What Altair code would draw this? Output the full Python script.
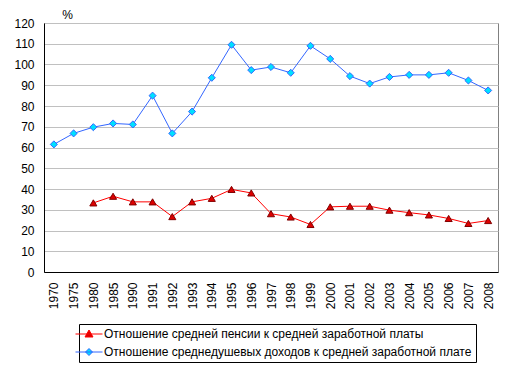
import altair as alt
import pandas as pd

years = ["1970", "1975", "1980", "1985", "1990", "1991", "1992", "1993", "1994", "1995",
         "1996", "1997", "1998", "1999", "2000", "2001", "2002", "2003", "2004", "2005",
         "2006", "2007", "2008"]

pension_ratio = [None, None, 33.3, 36.5, 33.8, 33.8, 26.7, 33.8, 35.5, 39.8,
                 38.1, 28.1, 26.5, 22.9, 31.4, 31.7, 31.7, 29.8, 28.6, 27.5,
                 25.8, 23.4, 24.8]

income_ratio = [61.5, 66.8, 69.8, 71.6, 71.1, 85.0, 66.8, 77.3, 93.6, 109.5,
                97.3, 98.8, 96.0, 109.0, 102.7, 94.4, 90.8, 94.0, 95.0, 95.0,
                96.0, 92.3, 87.5]

series_names = [
    "Отношение средней пенсии к средней заработной платы",
    "Отношение среднедушевых доходов к средней заработной плате",
]

rows = []
for y, v in zip(years, pension_ratio):
    if v is not None:
        rows.append({"year": y, "value": v, "series": series_names[0]})
for y, v in zip(years, income_ratio):
    if v is not None:
        rows.append({"year": y, "value": v, "series": series_names[1]})
df = pd.DataFrame(rows)

FONT = "Arial, Liberation Sans"
line_colors = ["#ff0000", "#3366ff"]
fill_colors = ["#dd0000", "#00e0ff"]
outline_colors = ["#800000", "#3366ff"]

x_enc = alt.X("year:N", sort=years, scale=alt.Scale(type="point", padding=0.5),
              axis=alt.Axis(title=None, labelAngle=270, labelAlign="right", labelBaseline="middle",
                            ticks=False, labelPadding=10, grid=False, domainColor="#000000",
                            labelFont=FONT, labelFontSize=12, labelColor="#000000"))
y_enc = alt.Y("value:Q", scale=alt.Scale(domain=[0, 120], nice=False),
              axis=alt.Axis(title="%", titleAngle=0, titleX=23, titleY=-9, titleAlign="center",
                            titleBaseline="middle", titleFont=FONT, titleFontSize=12,
                            titleFontWeight="normal", titleColor="#000000",
                            values=list(range(0, 121, 10)), ticks=False, labelPadding=10,
                            labelFont=FONT, labelFontSize=12, labelColor="#000000",
                            grid=True, gridColor="#c0c0c0", domainColor="#000000"))

base = alt.Chart(df)

lines = base.mark_line(strokeWidth=1).encode(
    x=x_enc, y=y_enc,
    color=alt.Color("series:N", scale=alt.Scale(domain=series_names, range=line_colors), legend=None),
)

points = base.mark_point(filled=True, size=50, strokeWidth=1, opacity=1).encode(
    x=x_enc, y=y_enc,
    shape=alt.Shape("series:N", scale=alt.Scale(domain=series_names, range=["triangle-up", "diamond"]), legend=None),
    fill=alt.Fill("series:N", scale=alt.Scale(domain=series_names, range=fill_colors), legend=None),
    stroke=alt.Stroke("series:N", scale=alt.Scale(domain=series_names, range=outline_colors), legend=None),
)

# symbolSize 100 -> one path unit = 5 px
tri_path = "M-2.7,0H2.7M-0.8,0.6L0,-0.8L0.8,0.6Z"
dia_path = "M-2.7,0H2.7M0,-0.7L0.7,0L0,0.7L-0.7,0Z"

legend_spec = alt.Legend(title=None, orient="none", legendX=35, legendY=301,
                         strokeColor="#000000", fillColor="#ffffff", padding=4,
                         symbolSize=100, symbolStrokeWidth=1, labelLimit=0,
                         labelFont=FONT, labelFontSize=12, labelColor="#000000",
                         labelOffset=9, rowPadding=6, symbolOpacity=1)

legend_layer = base.mark_point(filled=True, size=100, strokeWidth=1, opacity=1).encode(
    x=x_enc, y=y_enc,
    shape=alt.Shape("series:N", scale=alt.Scale(domain=series_names, range=[tri_path, dia_path]), legend=legend_spec),
    fill=alt.Fill("series:N", scale=alt.Scale(domain=series_names, range=fill_colors), legend=legend_spec),
    stroke=alt.Stroke("series:N", scale=alt.Scale(domain=series_names, range=line_colors), legend=legend_spec),
).transform_filter("false")

chart = alt.layer(lines, points, legend_layer).resolve_scale(
    shape="independent", fill="independent", stroke="independent", color="independent"
).properties(
    width=454, height=249,
    autosize=alt.AutoSizeParams(type="none"),
    padding={"left": 36, "top": 15, "right": 7, "bottom": 92},
    background="#ffffff",
).configure_view(stroke="#808080", strokeWidth=1)

chart.save("out.html", embed_options={"renderer": "svg", "actions": False})
